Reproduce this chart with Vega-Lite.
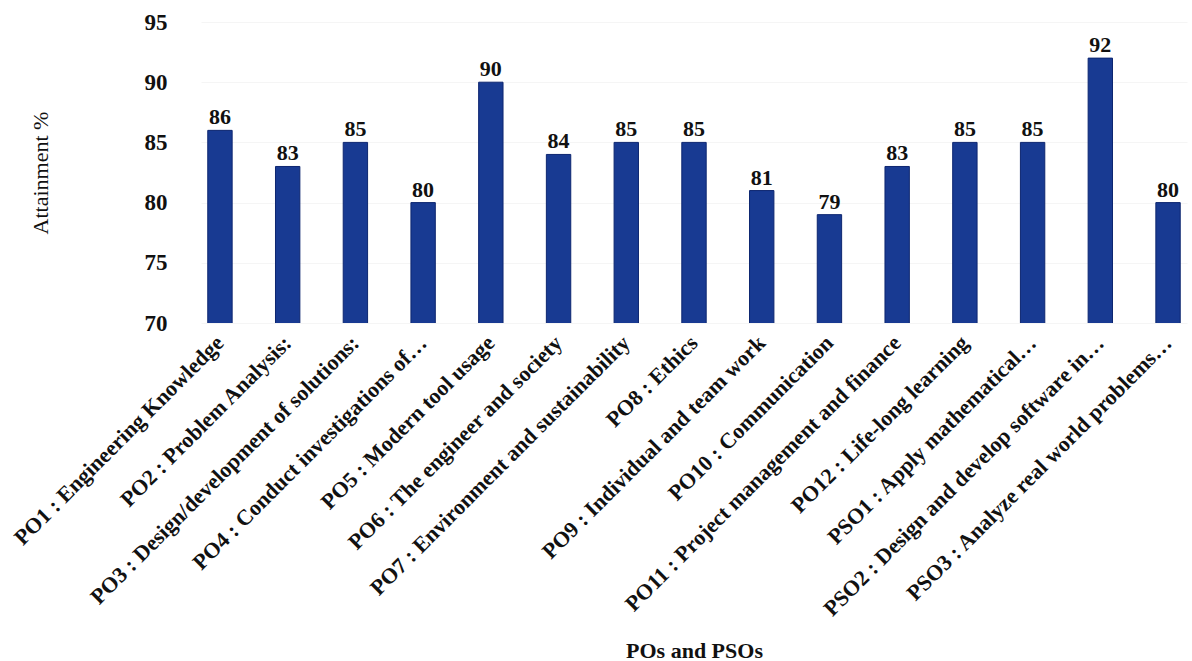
{
  "$schema": "https://vega.github.io/schema/vega-lite/v6.json",
  "autosize": {"type": "none"},
  "padding": {"left": 201, "top": 22, "right": 5, "bottom": 338},
  "width": 986,
  "height": 301,
  "background": "white",
  "config": {
    "view": {"stroke": null},
    "font": "Liberation Serif",
    "axis": {"labelFont": "Liberation Serif", "titleFont": "Liberation Serif", "labelColor": "#111", "titleColor": "#111"}
  },
  "data": {
    "values": [
      {"po": "PO1 : Engineering Knowledge", "value": 86},
      {"po": "PO2 : Problem Analysis:", "value": 83},
      {"po": "PO3 : Design/development of solutions:", "value": 85},
      {"po": "PO4 : Conduct investigations of…", "value": 80},
      {"po": "PO5 : Modern tool usage", "value": 90},
      {"po": "PO6 : The engineer and society", "value": 84},
      {"po": "PO7 : Environment and sustainability", "value": 85},
      {"po": "PO8 : Ethics", "value": 85},
      {"po": "PO9 : Individual and team work", "value": 81},
      {"po": "PO10 : Communication", "value": 79},
      {"po": "PO11 : Project management and finance", "value": 83},
      {"po": "PO12 : Life-long learning", "value": 85},
      {"po": "PSO1 : Apply mathematical…", "value": 85},
      {"po": "PSO2 : Design and develop software in…", "value": 92},
      {"po": "PSO3 : Analyze real world problems…", "value": 80}
    ]
  },
  "encoding": {
    "x": {
      "field": "po", "type": "nominal", "sort": null,
      "scale": {"paddingInner": 0.64, "paddingOuter": 0.1},
      "axis": {
        "title": "POs and PSOs", "titleFontSize": 22, "titleFontWeight": "bold",
        "titleY": 327, "titleBaseline": "middle",
        "labelAngle": -45, "labelAlign": "right", "labelBaseline": "middle",
        "labelFontSize": 22, "labelFontWeight": "bold", "labelLimit": 0,
        "labelPadding": 16, "ticks": false, "domain": false, "labelOverlap": false
      }
    },
    "y": {
      "field": "value", "type": "quantitative",
      "scale": {"domain": [70, 95], "nice": false, "zero": false},
      "axis": {
        "title": "Attainment %", "titleFontSize": 22, "titleFontWeight": "normal",
        "values": [70, 75, 80, 85, 90, 95],
        "labelFontSize": 23, "labelFontWeight": "bold", "labelPadding": 34,
        "titlePadding": 92, "ticks": false, "domain": false,
        "grid": true, "gridColor": "#f5f5f5"
      }
    }
  },
  "layer": [
    {"mark": {"type": "bar", "color": "#183a92", "stroke": "#0d2670", "strokeWidth": 1, "clip": true}},
    {"mark": {"type": "text", "baseline": "alphabetic", "dy": -6, "fontSize": 22, "fontWeight": "bold", "color": "#111", "font": "Liberation Serif"},
     "encoding": {"text": {"field": "value", "type": "quantitative"}}}
  ]
}
